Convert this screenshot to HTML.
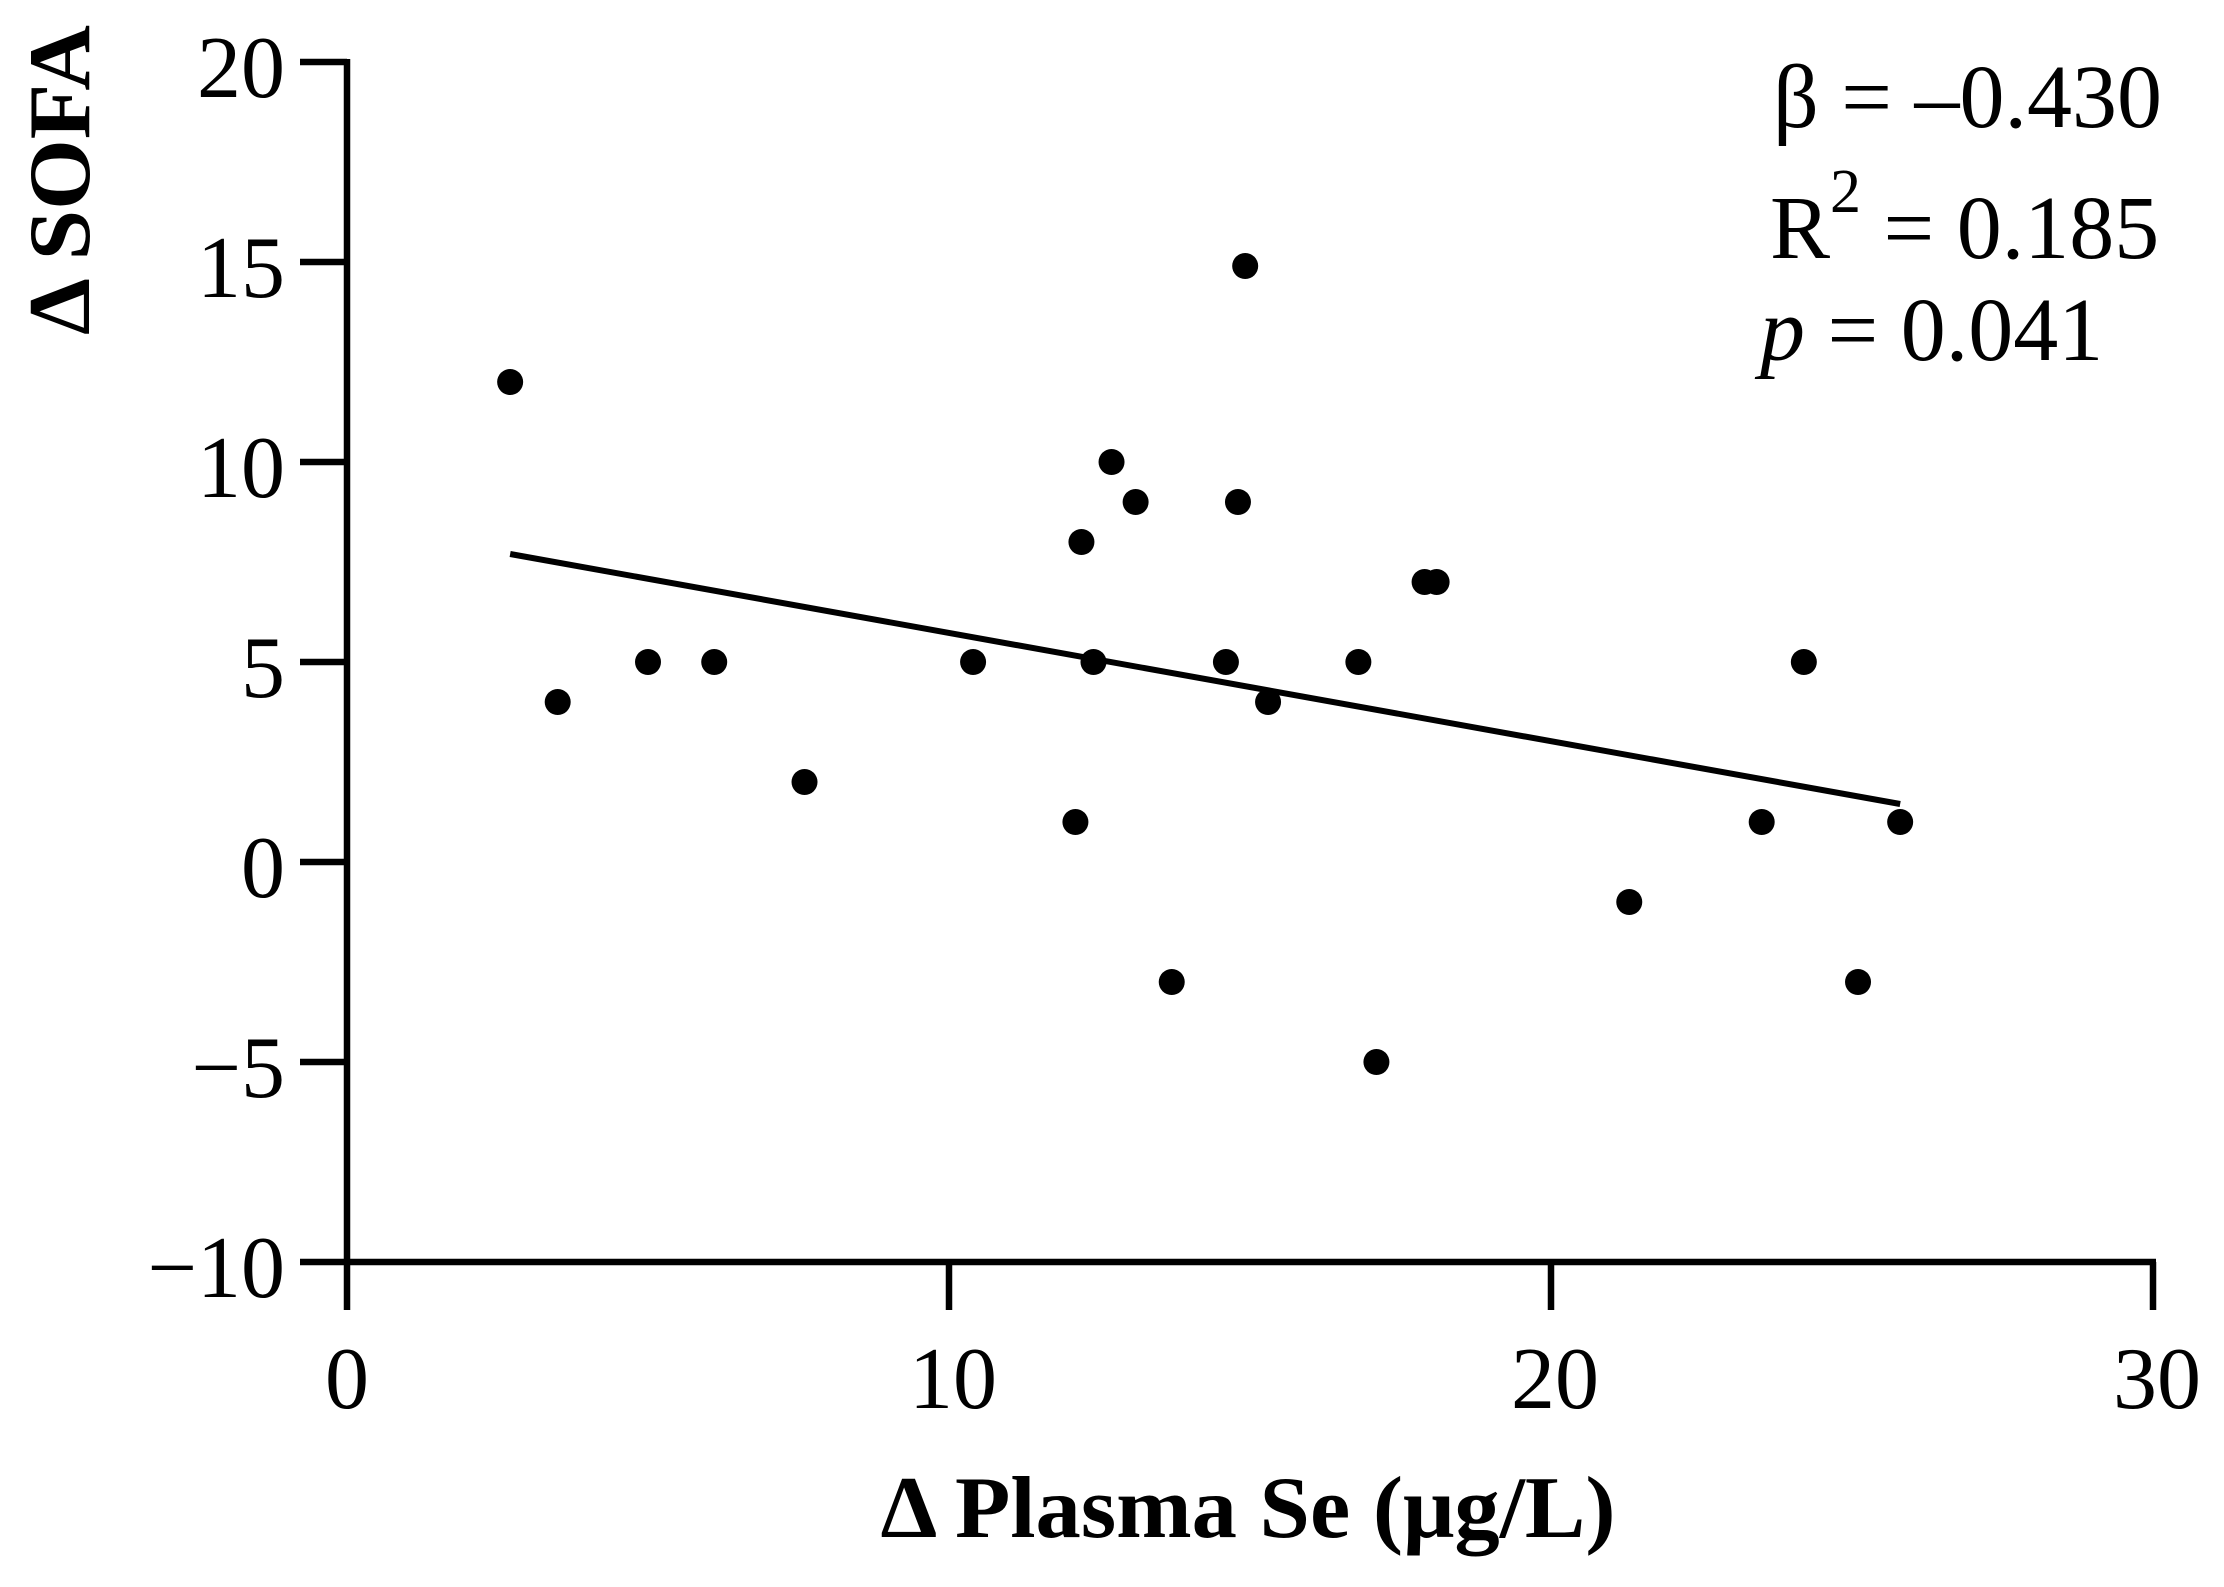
<!DOCTYPE html>
<html><head><meta charset="utf-8"><style>
html,body{margin:0;padding:0;background:#fff;}
svg{display:block;font-family:"Liberation Serif","DejaVu Serif",serif;}
</style></head><body>
<svg id="chart" width="2224" height="1587" viewBox="0 0 2224 1587">
<rect width="2224" height="1587" fill="#fff"/>
<g id="axes"></g>
<g id="marks"></g>
<text x="89" y="180" transform="rotate(-90 89 180)" text-anchor="middle" font-size="88" font-weight="bold" textLength="310" lengthAdjust="spacingAndGlyphs">Δ SOFA</text>
<text x="1248" y="1537" text-anchor="middle" font-size="88" font-weight="bold" textLength="735" lengthAdjust="spacingAndGlyphs">Δ Plasma Se (μg/L)</text>
<g font-size="90">
<text x="1773" y="127">β = –0.430</text>
<text x="1770" y="258">R<tspan dy="-46" font-size="62">2</tspan><tspan dy="46"> = 0.185</tspan></text>
<text x="1760" y="360"><tspan font-style="italic">p</tspan> = 0.041</text>
</g>
</svg>
<script>
const xVals=[2.71,3.5,5.0,6.1,7.6,10.4,12.1,12.2,12.4,12.7,13.1,13.7,14.6,14.8,14.92,15.3,16.8,17.1,17.9,18.1,21.3,23.5,24.2,25.1,25.8];
const yVals=[12,4,5,5,2,5,1,8,5,10,9,-3,5,9,14.9,4,5,-5,7,7,-1,1,5,-3,1];
const xTicks=[0,10,20,30];
const yTicks=[20,15,10,5,0,-5,-10];
const yTickLabels=["20","15","10","5","0","\u22125","\u221210"];
const fitX=[2.71,25.8];
const fitY=[7.7,1.45];

const NS="http://www.w3.org/2000/svg";
const X0=347,X1=2153,Y0=62,Y1=1262;
const xs=v=>X0+(v-0)/(30-0)*(X1-X0);
const ys=v=>Y0+(20-v)/(20-(-10))*(Y1-Y0);
function mk(t,a){const e=document.createElementNS(NS,t);for(const k in a)e.setAttribute(k,a[k]);return e;}
const axes=document.getElementById('axes');
const marks=document.getElementById('marks');

let yl=mk('line',{x1:X0,y1:Y0-3,x2:X0,y2:Y1+3,stroke:'#000','stroke-width':6.5});


axes.appendChild(yl);
let xl=mk('line',{x1:X0-3,y1:Y1,x2:X1+3,y2:Y1,stroke:'#000','stroke-width':6.5});


axes.appendChild(xl);

yTicks.forEach((v,i)=>{
  const t=mk('line',{x1:X0-47,y1:ys(v),x2:X0,y2:ys(v),stroke:'#000','stroke-width':6.5});
  
  
  axes.appendChild(t);
  const l=mk('text',{x:285,y:ys(v)+35,'text-anchor':'end','font-size':88});
  l.textContent=yTickLabels[i];
  
  
  axes.appendChild(l);
});
xTicks.forEach(v=>{
  const t=mk('line',{x1:xs(v),y1:Y1,x2:xs(v),y2:Y1+48,stroke:'#000','stroke-width':6.5});
  
  
  axes.appendChild(t);
  const l=mk('text',{x:xs(v)+(v===0?0:4),y:1408,'text-anchor':'middle','font-size':88});
  l.textContent=String(v);
  
  
  axes.appendChild(l);
});

const fit=mk('line',{x1:xs(fitX[0]),y1:ys(fitY[0]),x2:xs(fitX[1]),y2:ys(fitY[1]),stroke:'#000','stroke-width':6});


marks.appendChild(fit);

xVals.forEach((v,i)=>{
  const c=mk('circle',{cx:xs(v),cy:ys(yVals[i]),r:13,fill:'#000'});
  
  
  marks.appendChild(c);
});
</script>
</body></html>
